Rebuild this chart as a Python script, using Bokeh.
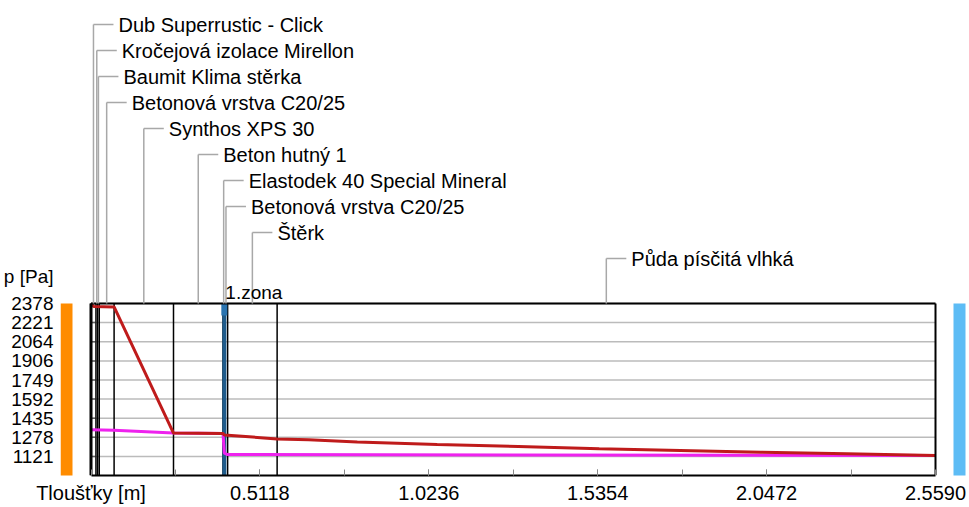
from bokeh.plotting import figure
from bokeh.models import Range1d, FixedTicker, PrintfTickFormatter
from bokeh.core.properties import value
from bokeh.embed import file_html
from bokeh.resources import INLINE

# ---------------- data ----------------
layer_names = ["Dub Superrustic - Click", "Kročejová izolace Mirellon", "Baumit Klima stěrka",
               "Betonová vrstva C20/25", "Synthos XPS 30", "Beton hutný 1",
               "Elastodek 40 Special Mineral", "Betonová vrstva C20/25", "Štěrk",
               "Půda písčitá vlhká"]
layer_thickness = [0.015, 0.005, 0.005, 0.045, 0.18, 0.15, 0.004, 0.01, 0.15, 1.995]

zone_x = [0.404]
zone_names = ["1.zona"]

x_title = "Tloušťky [m]"
y_title = "p [Pa]"
x_tick_values = [0.5118, 1.0236, 1.5354, 2.0472, 2.5590]
x_minor_values = [0.2559, 0.5118, 0.7677, 1.0236, 1.2795, 1.5354, 1.7913, 2.0472, 2.3031]
y_tick_values = [2378, 2221, 2064, 1906, 1749, 1592, 1435, 1278, 1121]
p_axis_min = 964

# saturated vapour pressure (red)
psat_x = [0.0, 0.008, 0.07, 0.25, 0.40, 0.404, 0.49, 0.564, 0.66, 0.807, 1.049, 1.295, 1.54, 1.786, 2.03, 2.29, 2.559]
psat_y = [2378, 2353, 2350, 1313, 1309, 1296, 1280, 1264, 1257, 1240, 1219, 1202, 1183, 1169, 1155, 1142, 1128]
# partial vapour pressure (magenta)
pv_x = [0.0, 0.07, 0.25, 0.40, 0.404, 0.414, 2.559]
pv_y = [1340, 1337, 1313, 1309, 1148, 1136, 1128]

# ---------------- layout (page pixels) ----------------
W, H = 969, 507
BOX_L, BOX_R, BOX_T, BOX_B = 90.5, 935.0, 303.0, 475.0
FRAME_L = 60
FRAME_R = W
FRAME_T = 0
FRAME_B = 475

total = sum(layer_thickness)
p_top = y_tick_values[0]
kx = (BOX_R - BOX_L) / total
ky = (BOX_B - BOX_T) / (p_top - p_axis_min)


def X(px):
    return (px - BOX_L) / kx


def Y(py):
    return p_top - (py - BOX_T) / ky


p = figure(width=W, height=H,
           x_range=Range1d(X(FRAME_L), X(FRAME_R)),
           y_range=Range1d(Y(FRAME_B), Y(FRAME_T)),
           output_backend="svg", toolbar_location=None,
           min_border_left=FRAME_L, min_border_right=0,
           min_border_top=0, min_border_bottom=H - FRAME_B)
p.outline_line_color = None
p.xgrid.visible = False
p.ygrid.visible = False

FONT = "Liberation Sans"

# bottom axis: box bottom edge, inner ticks, tick labels and the title under x = 0
xa = p.xaxis[0]
xa.ticker = FixedTicker(ticks=[0] + x_tick_values, minor_ticks=x_minor_values)
xa.formatter = PrintfTickFormatter(format="%.4f")
xa.major_label_overrides = {0: x_title}
xa.bounds = (0, total)
xa.axis_line_color = "black"
xa.axis_line_width = 2
xa.major_tick_in = 6
xa.major_tick_out = 0
xa.minor_tick_in = 6
xa.minor_tick_out = 0
xa.major_tick_line_color = "#888888"
xa.minor_tick_line_color = "#888888"
xa.major_label_text_font = FONT
xa.major_label_text_font_size = "20px"
xa.major_label_text_color = "black"
xa.major_label_standoff = 6

# left axis: pressure tick labels plus the title above them
y_title_pos = round(Y(276))
ya = p.yaxis[0]
ya.ticker = FixedTicker(ticks=y_tick_values + [y_title_pos])
ya.major_label_overrides = {y_title_pos: y_title}
ya.axis_line_color = None
ya.major_tick_line_color = None
ya.minor_tick_line_color = None
ya.major_label_text_font = FONT
ya.major_label_text_font_size = "19px"
ya.major_label_text_color = "black"
ya.major_label_standoff = 1

# side bars (interior / exterior)
p.quad(left=X(60), right=X(72), top=Y(303), bottom=Y(477), color="#FF8C00", line_color=None)
p.quad(left=X(953), right=X(965), top=Y(303), bottom=Y(477), color="#5DBCF5", line_color=None)

# grid lines inside the box
p.segment(x0=[0] * len(y_tick_values), x1=[total] * len(y_tick_values),
          y0=y_tick_values, y1=y_tick_values, line_color="#BBBBBB", line_width=1.5)
# small tick marks on the inner left edge
p.segment(x0=[0] * len(y_tick_values), x1=[4 / kx] * len(y_tick_values),
          y0=y_tick_values, y1=y_tick_values, line_color="#606060", line_width=1.5)

# layer boundaries
bounds = []
acc = 0.0
for t in layer_thickness:
    acc += t
    bounds.append(acc)
inner = bounds[:-1]
p.segment(x0=inner, x1=inner, y0=[p_axis_min] * len(inner), y1=[p_top] * len(inner),
          line_color="black", line_width=1.5)

# zone marker
p.segment(x0=zone_x, x1=zone_x, y0=[p_axis_min], y1=[p_top], line_color="#1F5C8C", line_width=4)
p.quad(left=[z - 3 / kx for z in zone_x], right=[z + 3 / kx for z in zone_x],
       top=[p_top], bottom=[Y(315)], color="#2A74B0", line_color=None)

# pressure curves
p.line(pv_x, pv_y, line_color="#EE22EE", line_width=3)
p.line(psat_x, psat_y, line_color="#BF1B1B", line_width=3)

# box border
p.segment(x0=[0, 0, total], x1=[total, 0, total], y0=[p_top, p_axis_min, p_axis_min],
          y1=[p_top, p_top, p_top], line_color="black", line_width=2)
p.segment(x0=[0], x1=[0], y0=[p_axis_min], y1=[p_top], line_color="black", line_width=3)

# leaders + layer labels
starts = [0.0] + bounds[:-1]
mids = [(a + b) / 2 for a, b in zip(starts, bounds)]
rows = [Y(24 + 26 * i) for i in range(len(layer_names))]
p.segment(x0=mids, x1=mids, y0=rows, y1=[p_top] * len(mids), line_color="#A8A8A8", line_width=1.5)
p.segment(x0=mids, x1=[m + 20 / kx for m in mids], y0=rows, y1=rows, line_color="#A8A8A8", line_width=1.5)
p.text(x=mids, y=rows, text=layer_names, x_offset=25, text_baseline="middle", text_align="left",
       text_font=value(FONT), text_font_size="20px", text_color="black")

# zone label
p.text(x=zone_x, y=[Y(292)], text=zone_names, x_offset=1, text_baseline="middle", text_align="left",
       text_font=value(FONT), text_font_size="19px", text_color="black")

open("out.html", "w").write(file_html(p, INLINE))
